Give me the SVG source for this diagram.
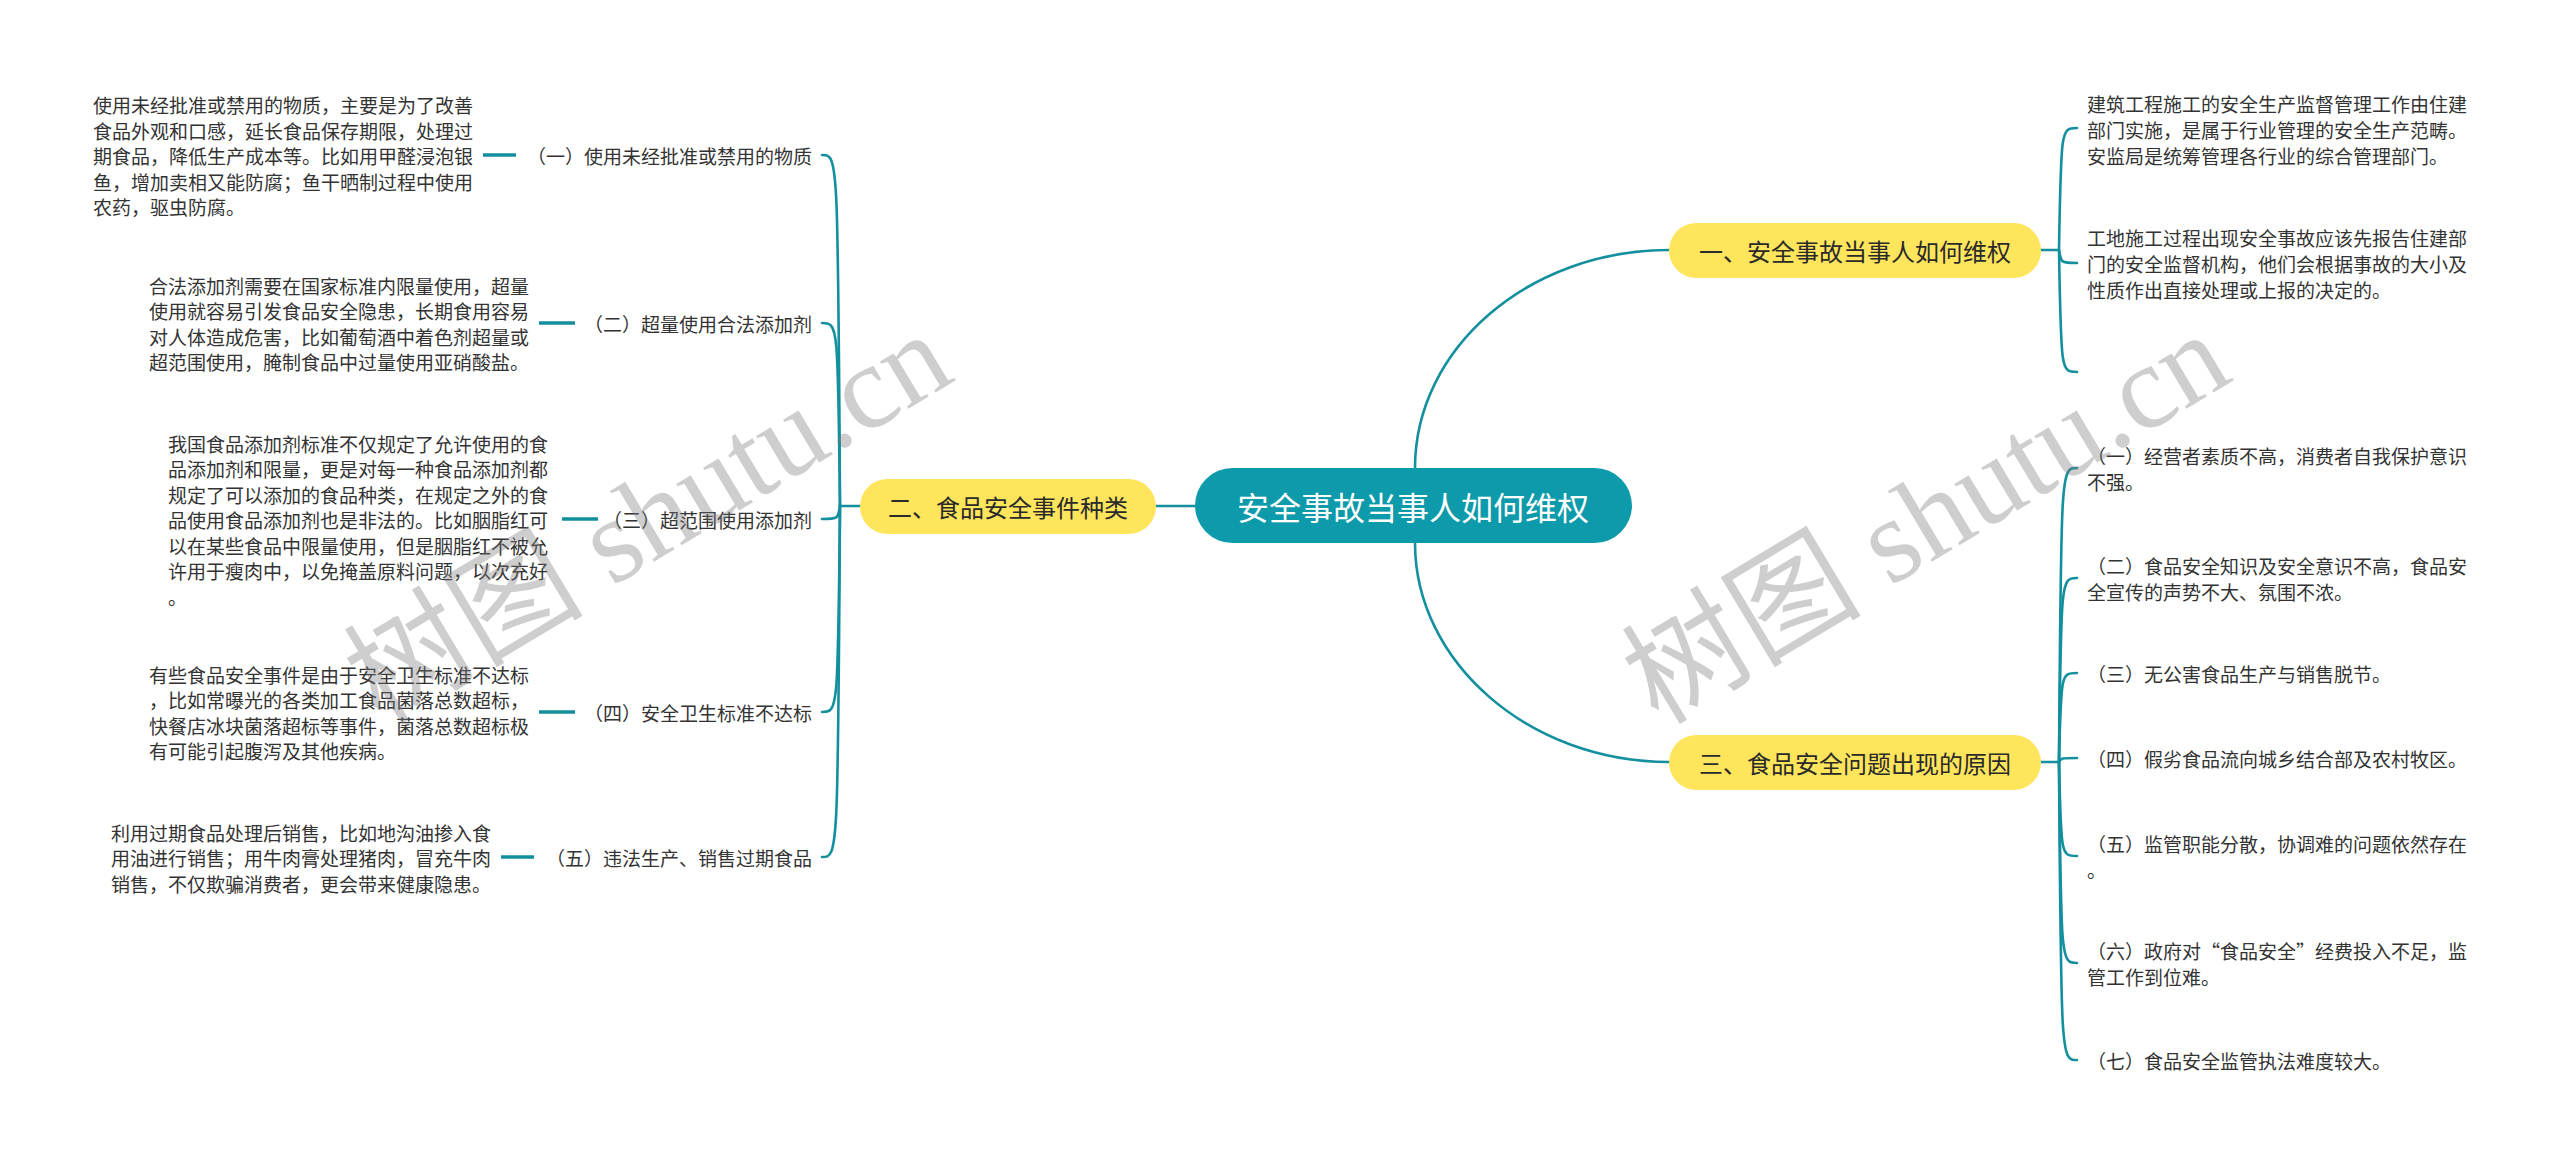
<svg xmlns="http://www.w3.org/2000/svg" width="2560" height="1163" viewBox="0 0 2560 1163">
<style>
.bg{fill:#ffffff}
.ln{fill:none;stroke:#138f9e;stroke-width:2.6;stroke-linecap:round}
.sh{fill:none;stroke:#138f9e;stroke-width:3.5}
.root{fill:#0d9aaa}
.yel{fill:#fee55c}
.rt{font-family:"Noto Sans CJK SC","Noto Sans",sans-serif;font-size:32px;fill:#ffffff;text-anchor:middle;dominant-baseline:central}
.yt{font-family:"Noto Sans CJK SC","Noto Sans",sans-serif;font-size:24px;fill:#2a2a2a;text-anchor:middle;dominant-baseline:central}
.t{font-family:"Noto Sans CJK SC","Noto Sans",sans-serif;font-size:19px;fill:#333333;dominant-baseline:central}
.lab{font-family:"Noto Sans CJK SC","Noto Sans",sans-serif;font-size:19px;fill:#333333;dominant-baseline:central;text-anchor:end}
.wm{font-family:"Liberation Serif","Noto Sans CJK SC",serif;font-size:120px;fill:#777777;fill-opacity:0.36;text-anchor:middle;dominant-baseline:central}
</style>
<rect class="bg" x="0" y="0" width="2560" height="1163"/>

<g id="connectors">
  <path class="ln" d="M1415 468 C1415 348 1529 250 1669 250"/>
  <path class="ln" d="M1415 543 C1415 662 1529 762 1669 762"/>
  <path class="ln" d="M1195 506 L1156 506"/>
  <path class="ln" d="M860 506 L840 506"/>
  <path class="ln" d="M840 506 C838 155 838 155 822 155"/>
  <path class="ln" d="M840 506 C838 323 838 323 822 323"/>
  <path class="ln" d="M840 506 C838 519 838 519 822 519"/>
  <path class="ln" d="M840 506 C838 712 838 712 822 712"/>
  <path class="ln" d="M840 506 C838 857 838 857 822 857"/>
  <path class="sh" d="M483 155 L516 155"/>
  <path class="sh" d="M539 323 L575 323"/>
  <path class="sh" d="M562 519 L598 519"/>
  <path class="sh" d="M539 712 L575 712"/>
  <path class="sh" d="M501 857 L534 857"/>
  <path class="ln" d="M2041 250 L2059 250"/>
  <path class="ln" d="M2059 250 C2061 128 2061 128 2077 128"/>
  <path class="ln" d="M2059 250 C2061 263 2061 263 2077 263"/>
  <path class="ln" d="M2059 250 C2061 372 2061 372 2077 372"/>
  <path class="ln" d="M2041 762 L2059 762"/>
  <path class="ln" d="M2059 762 C2061 468 2061 468 2077 468"/>
  <path class="ln" d="M2059 762 C2061 578 2061 578 2077 578"/>
  <path class="ln" d="M2059 762 C2061 673 2061 673 2077 673"/>
  <path class="ln" d="M2059 762 C2061 758 2061 758 2077 758"/>
  <path class="ln" d="M2059 762 C2061 856 2061 856 2077 856"/>
  <path class="ln" d="M2059 762 C2061 963 2061 963 2077 963"/>
  <path class="ln" d="M2059 762 C2061 1060 2061 1060 2077 1060"/>
</g>

<g id="root">
  <rect class="root" x="1195" y="468" width="437" height="75" rx="37.5"/>
  <text class="rt" x="1413" y="506">安全事故当事人如何维权</text>
</g>

<g id="b1">
  <rect class="yel" x="1669" y="223" width="372" height="55" rx="27.5"/>
  <text class="yt" x="1855" y="250">一、安全事故当事人如何维权</text>
</g>
<g id="b2">
  <rect class="yel" x="860" y="479" width="296" height="55" rx="27.5"/>
  <text class="yt" x="1008" y="506">二、食品安全事件种类</text>
</g>
<g id="b3">
  <rect class="yel" x="1669" y="735" width="372" height="55" rx="27.5"/>
  <text class="yt" x="1855" y="762">三、食品安全问题出现的原因</text>
</g>

<g id="b1c1">
  <text class="t" x="2087"><tspan x="2087" y="103">建筑工程施工的安全生产监督管理工作由住建</tspan><tspan x="2087" y="129">部门实施，是属于行业管理的安全生产范畴。</tspan><tspan x="2087" y="155">安监局是统筹管理各行业的综合管理部门。</tspan></text>
</g>
<g id="b1c2">
  <text class="t" x="2087"><tspan x="2087" y="237">工地施工过程出现安全事故应该先报告住建部</tspan><tspan x="2087" y="263">门的安全监督机构，他们会根据事故的大小及</tspan><tspan x="2087" y="289">性质作出直接处理或上报的决定的。</tspan></text>
</g>

<g id="b3c1">
  <text class="t" x="2087"><tspan x="2087" y="455">（一）经营者素质不高，消费者自我保护意识</tspan><tspan x="2087" y="481">不强。</tspan></text>
</g>
<g id="b3c2">
  <text class="t" x="2087"><tspan x="2087" y="565">（二）食品安全知识及安全意识不高，食品安</tspan><tspan x="2087" y="591">全宣传的声势不大、氛围不浓。</tspan></text>
</g>
<g id="b3c3">
  <text class="t" x="2087" y="673">（三）无公害食品生产与销售脱节。</text>
</g>
<g id="b3c4">
  <text class="t" x="2087" y="758">（四）假劣食品流向城乡结合部及农村牧区。</text>
</g>
<g id="b3c5">
  <text class="t" x="2087"><tspan x="2087" y="843">（五）监管职能分散，协调难的问题依然存在</tspan><tspan x="2087" y="869">。</tspan></text>
</g>
<g id="b3c6">
  <text class="t" x="2087"><tspan x="2087" y="950">（六）政府对“食品安全”经费投入不足，监</tspan><tspan x="2087" y="976">管工作到位难。</tspan></text>
</g>
<g id="b3c7">
  <text class="t" x="2087" y="1060">（七）食品安全监管执法难度较大。</text>
</g>

<g id="b2c1">
  <text class="lab" x="812" y="155">（一）使用未经批准或禁用的物质</text>
</g>
<g id="b2c1d">
  <text class="t" x="93"><tspan x="93" y="104">使用未经批准或禁用的物质，主要是为了改善</tspan><tspan x="93" y="129.5">食品外观和口感，延长食品保存期限，处理过</tspan><tspan x="93" y="155">期食品，降低生产成本等。比如用甲醛浸泡银</tspan><tspan x="93" y="180.5">鱼，增加卖相又能防腐；鱼干晒制过程中使用</tspan><tspan x="93" y="206">农药，驱虫防腐。</tspan></text>
</g>
<g id="b2c2">
  <text class="lab" x="812" y="323">（二）超量使用合法添加剂</text>
</g>
<g id="b2c2d">
  <text class="t" x="149"><tspan x="149" y="284.75">合法添加剂需要在国家标准内限量使用，超量</tspan><tspan x="149" y="310.25">使用就容易引发食品安全隐患，长期食用容易</tspan><tspan x="149" y="335.75">对人体造成危害，比如葡萄酒中着色剂超量或</tspan><tspan x="149" y="361.25">超范围使用，腌制食品中过量使用亚硝酸盐。</tspan></text>
</g>
<g id="b2c3">
  <text class="lab" x="812" y="519">（三）超范围使用添加剂</text>
</g>
<g id="b2c3d">
  <text class="t" x="168"><tspan x="168" y="442.5">我国食品添加剂标准不仅规定了允许使用的食</tspan><tspan x="168" y="468">品添加剂和限量，更是对每一种食品添加剂都</tspan><tspan x="168" y="493.5">规定了可以添加的食品种类，在规定之外的食</tspan><tspan x="168" y="519">品使用食品添加剂也是非法的。比如胭脂红可</tspan><tspan x="168" y="544.5">以在某些食品中限量使用，但是胭脂红不被允</tspan><tspan x="168" y="570">许用于瘦肉中，以免掩盖原料问题，以次充好</tspan><tspan x="168" y="595.5">。</tspan></text>
</g>
<g id="b2c4">
  <text class="lab" x="812" y="712">（四）安全卫生标准不达标</text>
</g>
<g id="b2c4d">
  <text class="t" x="149"><tspan x="149" y="673.75">有些食品安全事件是由于安全卫生标准不达标</tspan><tspan x="149" y="699.25">，比如常曝光的各类加工食品菌落总数超标，</tspan><tspan x="149" y="724.75">快餐店冰块菌落超标等事件，菌落总数超标极</tspan><tspan x="149" y="750.25">有可能引起腹泻及其他疾病。</tspan></text>
</g>
<g id="b2c5">
  <text class="lab" x="812" y="857">（五）违法生产、销售过期食品</text>
</g>
<g id="b2c5d">
  <text class="t" x="111"><tspan x="111" y="831.5">利用过期食品处理后销售，比如地沟油掺入食</tspan><tspan x="111" y="857">用油进行销售；用牛肉膏处理猪肉，冒充牛肉</tspan><tspan x="111" y="882.5">销售，不仅欺骗消费者，更会带来健康隐患。</tspan></text>
</g>

<g id="watermark">
  <text class="wm" transform="translate(648 518) rotate(-31)">树图 shutu.cn</text>
  <text class="wm" transform="translate(1926 518) rotate(-31)">树图 shutu.cn</text>
</g>
</svg>
